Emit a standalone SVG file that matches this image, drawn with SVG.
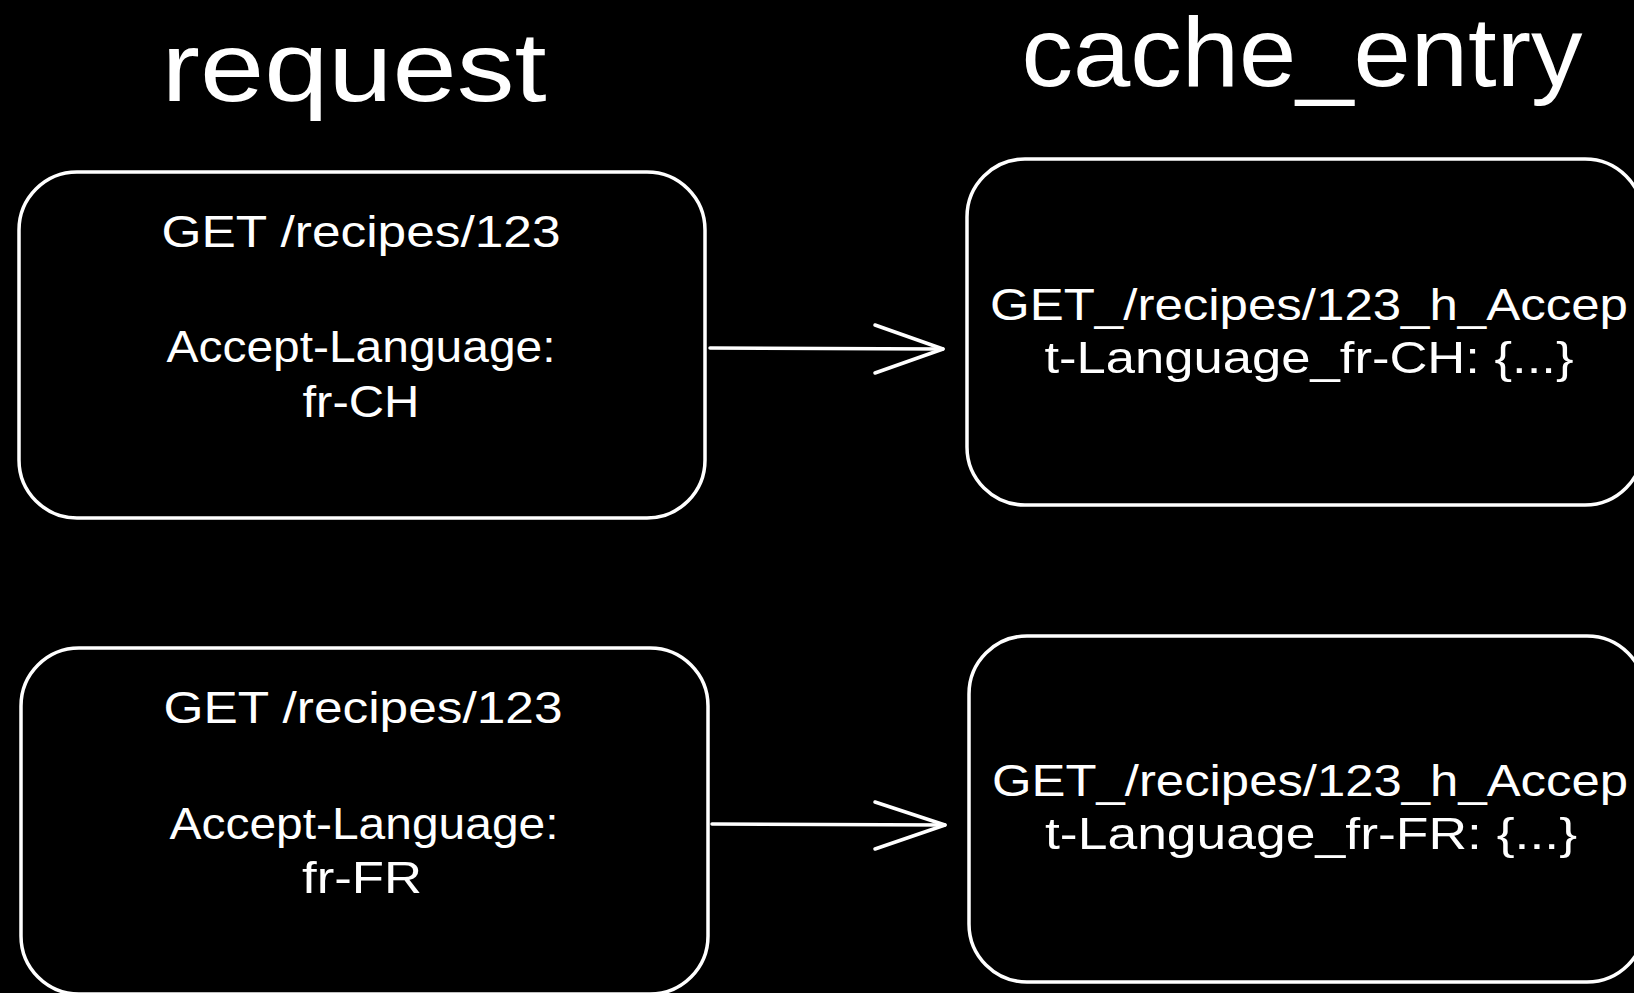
<svg xmlns="http://www.w3.org/2000/svg" width="1634" height="993" viewBox="0 0 1634 993">
  <defs>
    <style>
      .box { fill: #000; stroke: #fff; stroke-width: 3.5; }
      .conn { fill: none; stroke: #fff; stroke-width: 3.5; stroke-linecap: round; stroke-linejoin: round; }
      .t { fill: #fff; font-family: "Liberation Sans", "DejaVu Sans", sans-serif; text-anchor: middle; }
      .title { font-size: 98px; }
      .lbl { font-size: 44px; }
    </style>
  </defs>
  <rect x="0" y="0" width="1634" height="993" fill="#000"/>

  <g id="title-request">
    <text class="t title" x="354" y="101" textLength="385" lengthAdjust="spacingAndGlyphs">request</text>
  </g>
  <g id="title-cache-entry">
    <text class="t title" x="1302" y="86" textLength="561" lengthAdjust="spacingAndGlyphs">cache_entry</text>
  </g>

  <g id="request-fr-CH">
    <rect class="box" x="19" y="172" width="686" height="346" rx="58" ry="58"/>
    <text class="t lbl" x="361" y="247" textLength="399" lengthAdjust="spacingAndGlyphs">GET /recipes/123</text>
    <text class="t lbl" x="361" y="362" textLength="389" lengthAdjust="spacingAndGlyphs">Accept-Language:</text>
    <text class="t lbl" x="361" y="417" textLength="117" lengthAdjust="spacingAndGlyphs">fr-CH</text>
  </g>

  <g id="cache-fr-CH">
    <rect class="box" x="967" y="159" width="676" height="346" rx="58" ry="58"/>
    <text class="t lbl" x="1309" y="320" textLength="638" lengthAdjust="spacingAndGlyphs">GET_/recipes/123_h_Accep</text>
    <text class="t lbl" x="1309" y="373" textLength="529" lengthAdjust="spacingAndGlyphs">t-Language_fr-CH: {...}</text>
  </g>

  <g id="request-fr-FR">
    <rect class="box" x="21" y="648" width="687" height="346" rx="58" ry="58"/>
    <text class="t lbl" x="363" y="723" textLength="399" lengthAdjust="spacingAndGlyphs">GET /recipes/123</text>
    <text class="t lbl" x="364" y="839" textLength="389" lengthAdjust="spacingAndGlyphs">Accept-Language:</text>
    <text class="t lbl" x="362" y="893" textLength="120" lengthAdjust="spacingAndGlyphs">fr-FR</text>
  </g>

  <g id="cache-fr-FR">
    <rect class="box" x="969" y="636" width="676" height="346" rx="58" ry="58"/>
    <text class="t lbl" x="1310" y="796" textLength="636" lengthAdjust="spacingAndGlyphs">GET_/recipes/123_h_Accep</text>
    <text class="t lbl" x="1311" y="849" textLength="532" lengthAdjust="spacingAndGlyphs">t-Language_fr-FR: {...}</text>
  </g>

  <g id="connectors">
    <path class="conn" d="M710,348 L943,349"/>
    <path class="conn" d="M875,325 L943,349 L875,373"/>
    <path class="conn" d="M712,824 L945,825"/>
    <path class="conn" d="M875,802 L945,825 L875,849"/>
  </g>
</svg>
